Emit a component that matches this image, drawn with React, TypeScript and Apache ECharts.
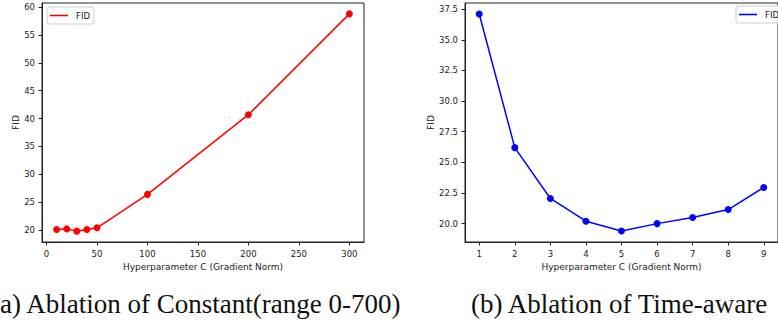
import React, { useEffect, useRef } from "react";
import * as echarts from "echarts";

const leftX = [10, 20, 30, 40, 50, 100, 200, 300];
const leftFID = [20.1, 20.2, 19.8, 20.1, 20.4, 26.4, 40.7, 58.8];
const rightX = [1, 2, 3, 4, 5, 6, 7, 8, 9];
const rightFID = [37.1, 26.2, 22.05, 20.2, 19.4, 20.0, 20.5, 21.15, 22.95];

const leftXTicks = [0, 50, 100, 150, 200, 250, 300];
const leftYTicks = [20, 25, 30, 35, 40, 45, 50, 55, 60];
const rightXTicks = [1, 2, 3, 4, 5, 6, 7, 8, 9];
const rightYTicks = [20, 22.5, 25, 27.5, 30, 32.5, 35, 37.5];

const xTitle = "Hyperparameter C (Gradient Norm)";
const yTitle = "FID";
const seriesName = "FID";
const captionA = "(a) Ablation of Constant(range 0-700)";
const captionB = "(b) Ablation of Time-aware";

const FONT = "DejaVu Sans";
const INK = "#222";
const FS = 8.5;

function axisCommon(ticks: number[], fmt?: (v: number) => string) {
  return {
    type: "value" as const,
    splitLine: { show: false },
    axisLine: { show: true, onZero: false, lineStyle: { color: INK, width: 1 } },
    axisTick: {
      show: true,
      length: 3.5,
      customValues: ticks,
      lineStyle: { color: INK, width: 1 },
    },
    axisLabel: {
      customValues: ticks,
      color: INK,
      fontFamily: FONT,
      fontSize: FS,
      margin: 7,
      formatter: fmt ? (v: number) => fmt(v) : (v: number) => String(v),
    },
    nameLocation: "middle" as const,
    nameTextStyle: { color: INK, fontFamily: FONT, fontSize: 9 },
  };
}

export default function App() {
  const ref = useRef<HTMLDivElement>(null);
  useEffect(() => {
    if (!ref.current) return;
    const chart = echarts.init(ref.current, undefined, { renderer: "svg" });
    const legendBase = {
      orient: "horizontal" as const,
      icon: "rect",
      itemWidth: 18,
      itemHeight: 1.6,
      padding: [4, 4, 4, 3],
      borderColor: "#cccccc",
      borderWidth: 1,
      borderRadius: 2,
      backgroundColor: "rgba(255,255,255,0.8)",
      selectedMode: false,
      textStyle: { color: INK, fontFamily: FONT, fontSize: FS, padding: [0, 0, 0, 3] },
    };
    chart.setOption({
      animation: false,
      backgroundColor: "#ffffff",
      grid: [
        { left: 42, top: 3, width: 322, height: 239, show: true, borderColor: INK, borderWidth: 1, backgroundColor: "transparent" },
        { left: 465, top: 3, width: 322, height: 239, show: true, borderColor: INK, borderWidth: 1, backgroundColor: "transparent" },
      ],
      xAxis: [
        { ...axisCommon(leftXTicks), gridIndex: 0, min: -4.5, max: 314.5, name: xTitle, nameGap: 19 },
        { ...axisCommon(rightXTicks), gridIndex: 1, min: 0.6, max: 9.4, name: xTitle, nameGap: 19 },
      ],
      yAxis: [
        { ...axisCommon(leftYTicks), gridIndex: 0, min: 17.85, max: 60.75, name: yTitle, nameGap: 22 },
        { ...axisCommon(rightYTicks, (v) => v.toFixed(1)), gridIndex: 1, min: 18.5, max: 38.0, name: yTitle, nameGap: 30 },
      ],
      legend: [
        { ...legendBase, left: 47, top: 7, data: [{ name: seriesName, itemStyle: { color: "#ff0000" } }] },
        { ...legendBase, left: 736, top: 6, data: [{ name: seriesName, itemStyle: { color: "#0000ff" } }] },
      ],
      series: [
        {
          type: "line",
          name: seriesName,
          xAxisIndex: 0,
          yAxisIndex: 0,
          data: leftX.map((x, i) => [x, leftFID[i]]),
          symbol: "circle",
          symbolSize: 7,
          lineStyle: { color: "#ff0000", width: 1.5 },
          itemStyle: { color: "#ff0000" },
        },
        {
          type: "line",
          name: seriesName,
          xAxisIndex: 1,
          yAxisIndex: 1,
          data: rightX.map((x, i) => [x, rightFID[i]]),
          symbol: "circle",
          symbolSize: 7,
          lineStyle: { color: "#0000ff", width: 1.5 },
          itemStyle: { color: "#0000ff" },
        },
      ],
      graphic: [
        {
          type: "text",
          left: -9,
          top: 290,
          style: { text: captionA, fontFamily: "Liberation Serif", fontSize: 27, fill: "#111" },
        },
        {
          type: "text",
          left: 471,
          top: 290,
          style: { text: captionB, fontFamily: "Liberation Serif", fontSize: 27, fill: "#111" },
        },
      ],
    });
    return () => chart.dispose();
  }, []);
  return <div ref={ref} style={{ position: "absolute", left: 0, top: 0, width: 778, height: 322 }} />;
}
